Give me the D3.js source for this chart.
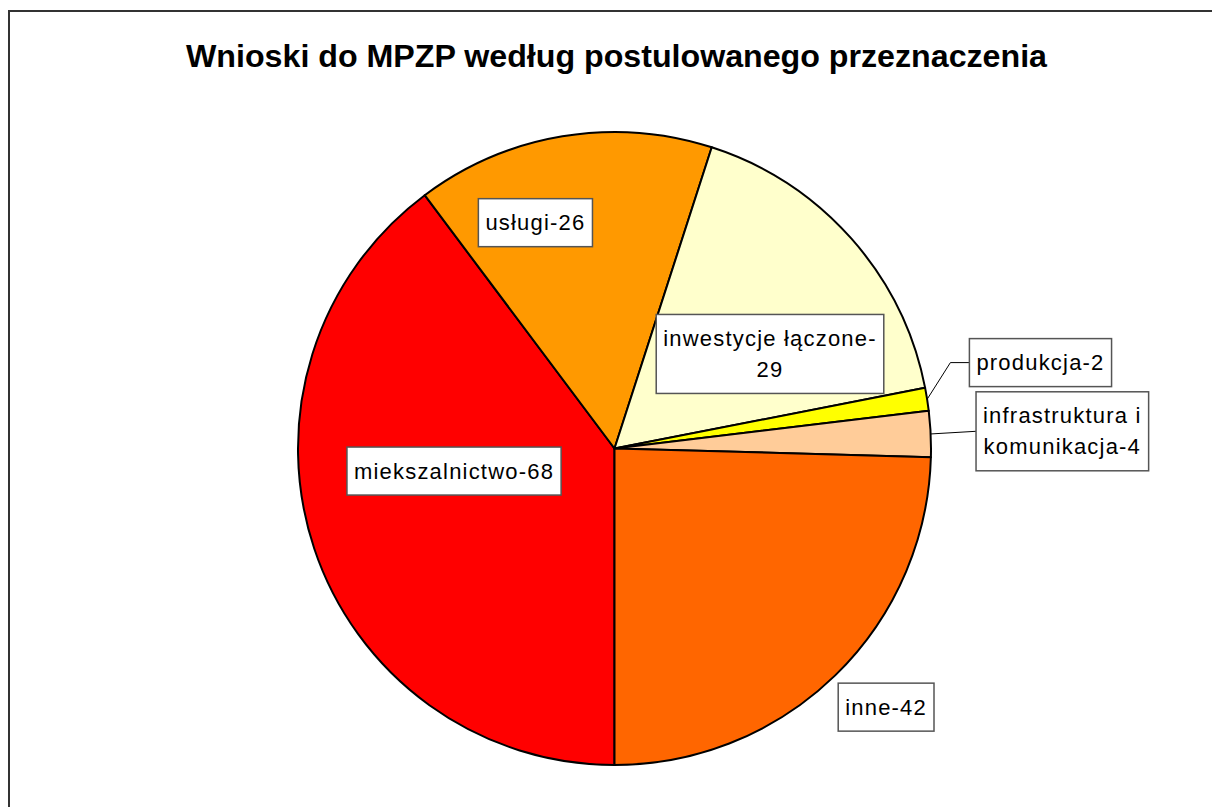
<!DOCTYPE html>
<html>
<head>
<meta charset="utf-8">
<script src="https://cdn.jsdelivr.net/npm/d3@7"></script>
<style>
  body { margin: 0; background: #fff; }
  text { font-family: "Liberation Sans", Arial, sans-serif; }
</style>
</head>
<body>
<div id="chart"></div>
<script>
var WIDTH = 1212, HEIGHT = 807;

// data
var categories = ['miekszalnictwo', 'usługi', 'inwestycje łączone', 'produkcja', 'infrastruktura i komunikacja', 'inne'];
var values = [68, 26, 29, 2, 4, 42];
var colors = ['#FF0000', '#FF9900', '#FFFFCC', '#FFFF00', '#FFCC99', '#FF6600'];
var labelLines = [
  ['miekszalnictwo-68'],
  ['usługi-26'],
  ['inwestycje łączone-', '29'],
  ['produkcja-2'],
  ['infrastruktura i', 'komunikacja-4'],
  ['inne-42']
];
var title = 'Wnioski do MPZP według postulowanego przeznaczenia';

// label box centres, polar: angle (deg from top, clockwise) and radius as fraction of R
var labelPolar = [
  { a: 262, r: 0.512 },
  { a: 340.7, r: 0.756 },
  { a: 58.7, r: 0.575 },
  { a: 78.6, r: 1.373 },
  { a: 87.8, r: 1.416 },
  { a: 133.6, r: 1.185 }
];
var hasLeader = [false, false, false, true, true, false];

var cx = 614.5, cy = 448.5, R = 316.5;
var lineH = 31, padX = 7, padY = 8.5;

var svg = d3.select('#chart').append('svg')
  .attr('width', WIDTH)
  .attr('height', HEIGHT);

// outer frame (runs off right and bottom)
svg.append('path')
  .attr('d', 'M1214,11 H9 V810')
  .attr('fill', 'none')
  .attr('stroke', '#333')
  .attr('stroke-width', 2);

svg.append('text')
  .attr('x', 186)
  .attr('y', 67)
  .attr('font-size', 32)
  .attr('font-weight', 'bold')
  .attr('textLength', 861)
  .attr('lengthAdjust', 'spacingAndGlyphs')
  .text(title);

var pie = d3.pie()
  .sort(null)
  .startAngle(Math.PI)
  .endAngle(3 * Math.PI);

var arcs = pie(values);
var arc = d3.arc().innerRadius(0).outerRadius(R);

var g = svg.append('g').attr('transform', 'translate(' + cx + ',' + cy + ')');

g.selectAll('path.slice')
  .data(arcs)
  .enter()
  .append('path')
  .attr('class', 'slice')
  .attr('d', arc)
  .attr('fill', function(d, i) { return colors[i]; })
  .attr('stroke', '#000')
  .attr('stroke-width', 2)
  .attr('stroke-linejoin', 'round');

var polar = function(aDeg, r) {
  var a = aDeg * Math.PI / 180;
  return [r * Math.sin(a), -r * Math.cos(a)];
};

var labels = g.selectAll('g.label')
  .data(arcs)
  .enter()
  .append('g')
  .attr('class', 'label');

labels.each(function(d, i) {
  var lg = d3.select(this);
  var c = polar(labelPolar[i].a, labelPolar[i].r * R);
  var lines = labelLines[i];
  var rect = lg.append('rect');
  var txt = lg.append('text')
    .attr('font-size', 22)
    .attr('letter-spacing', 1.2)
    .attr('text-anchor', 'middle')
    .attr('fill', '#000');
  lines.forEach(function(s, k) {
    txt.append('tspan')
      .attr('x', c[0])
      .attr('y', c[1] + (k - (lines.length - 1) / 2) * lineH + 7.5)
      .text(s);
  });
  var w = txt.node().getBBox().width + 2 * padX;
  var h = lines.length * lineH + 2 * padY;
  rect.attr('x', c[0] - w / 2)
    .attr('y', c[1] - h / 2)
    .attr('width', w)
    .attr('height', h)
    .attr('fill', '#fff')
    .attr('stroke', '#555')
    .attr('stroke-width', 1.5);

  if (hasLeader[i]) {
    var mid = (d.startAngle + d.endAngle) / 2 * 180 / Math.PI;
    var p0 = polar(mid, R);
    var bx = c[0] - w / 2;
    var pts = [p0];
    if (Math.abs(c[1] - p0[1]) > 10) pts.push([bx - 19, c[1]]);
    pts.push([bx, c[1]]);
    g.insert('path', 'g.label')
      .attr('d', d3.line()(pts))
      .attr('fill', 'none')
      .attr('stroke', '#000')
      .attr('stroke-width', 1);
  }
});
</script>
</body>
</html>
